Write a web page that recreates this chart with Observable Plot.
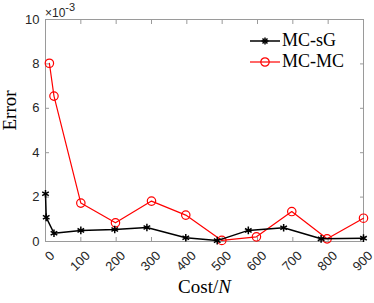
<!DOCTYPE html>
<html>
<head>
<meta charset="utf-8">
<script src="https://cdn.jsdelivr.net/npm/d3@7"></script>
<script src="https://cdn.jsdelivr.net/npm/@observablehq/plot@0.6"></script>
<style>
  html, body { margin: 0; padding: 0; background: #fff; }
  #wrap { position: relative; width: 374px; height: 303px; }
  #exp { position: absolute; left: 45px; top: 2px; font: 12px "Liberation Sans", Arial, sans-serif; color: #262626; }
  #exp sup { font-size: 11px; position: relative; top: -1px; }
  #legend { position: absolute; left: 250px; top: 30px; font: 18px "Liberation Serif", serif; color: #000; }
  .row { display: flex; align-items: center; height: 21px; }
  .row svg { margin-right: 2px; }
</style>
</head>
<body>
<div id="wrap"></div>
<script>
const seriesNames = ["MC-sG", "MC-MC"];
const seriesColors = ["#000000", "#ff0000"];
const costSG = [0, 2, 24, 100, 196, 287, 397, 486, 574, 674, 780, 900];
const errSG  = [2.15e-3, 1.09e-3, 0.37e-3, 0.50e-3, 0.54e-3, 0.63e-3, 0.17e-3, 0.04e-3, 0.50e-3, 0.62e-3, 0.12e-3, 0.15e-3];
const costMC = [11, 24, 100, 198, 300, 397, 499, 597, 697, 797, 900];
const errMC  = [8.03e-3, 6.55e-3, 1.73e-3, 0.84e-3, 1.82e-3, 1.19e-3, 0.05e-3, 0.21e-3, 1.35e-3, 0.12e-3, 1.05e-3];
const xTicks = [0, 100, 200, 300, 400, 500, 600, 700, 800, 900];
const yTicks = [0, 2e-3, 4e-3, 6e-3, 8e-3, 10e-3];

const sG = costSG.map((c, i) => ({cost: c, err: errSG[i]}));
const mc = costMC.map((c, i) => ({cost: c, err: errMC[i]}));

const axisGray = "#9a9a9a";
const labelColor = "#262626";
const blank = () => "";

const plot = Plot.plot({
  width: 374,
  height: 303,
  marginLeft: 45,
  marginRight: 11,
  marginTop: 19,
  marginBottom: 62,
  style: {fontFamily: "'Liberation Sans', Arial, sans-serif", fontSize: "13px", background: "#fff"},
  x: {domain: [0, 900]},
  y: {domain: [0, 10e-3]},
  marks: [
    Plot.frame({stroke: axisGray}),
    Plot.axisX({anchor: "bottom", ticks: xTicks, tickSize: -4, tickFormat: blank, stroke: axisGray, label: null}),
    Plot.axisX({anchor: "top", ticks: xTicks, tickSize: -4, tickFormat: blank, stroke: axisGray, label: null}),
    Plot.axisY({anchor: "left", ticks: yTicks, tickSize: -4, tickFormat: blank, stroke: axisGray, label: null}),
    Plot.axisY({anchor: "right", ticks: yTicks, tickSize: -4, tickFormat: blank, stroke: axisGray, label: null}),
    Plot.axisX({anchor: "bottom", ticks: xTicks, tickSize: 0, tickPadding: 12, dx: 7, tickRotate: -45,
      fill: labelColor, fontSize: 13, label: null}),
    Plot.axisY({anchor: "left", ticks: yTicks, tickSize: 0, tickPadding: 6, fill: labelColor, fontSize: 13,
      tickFormat: d => String(Math.round(d * 1000)), label: null}),
    Plot.line(mc, {x: "cost", y: "err", stroke: seriesColors[1], strokeWidth: 1.2}),
    Plot.dot(mc, {x: "cost", y: "err", stroke: seriesColors[1], symbol: "circle", r: 4.2, strokeWidth: 1.2, fill: "none"}),
    Plot.line(sG, {x: "cost", y: "err", stroke: seriesColors[0], strokeWidth: 1.5}),
    Plot.dot(sG, {x: "cost", y: "err", stroke: seriesColors[0], symbol: "asterisk", r: 3.6, strokeWidth: 1.5}),
    Plot.text(["Cost/N"], {frameAnchor: "bottom", dy: 51, text: d => d, fontFamily: "'Liberation Serif', serif", fontSize: 19, fill: "#000"}),
    Plot.text(["Error"], {frameAnchor: "left", dx: -36, rotate: -90, text: d => d, fontFamily: "'Liberation Serif', serif", fontSize: 19, fill: "#000"})
  ]
});

plot.querySelectorAll("text").forEach(t => {
  if (t.textContent === "Cost/N") {
    t.textContent = "Cost/";
    const ts = document.createElementNS("http://www.w3.org/2000/svg", "tspan");
    ts.setAttribute("font-style", "italic");
    ts.textContent = "N";
    t.appendChild(ts);
  }
});

const wrap = document.getElementById("wrap");
wrap.appendChild(plot);

const exp = document.createElement("div");
exp.id = "exp";
exp.innerHTML = "×10<sup>-3</sup>";
wrap.appendChild(exp);

const legend = document.createElement("div");
legend.id = "legend";
seriesNames.forEach((name, i) => {
  const row = document.createElement("div");
  row.className = "row";
  const sym = i === 0
    ? `<g stroke="${seriesColors[i]}" stroke-width="1.5"><line x1="1.5" y1="7" x2="8.5" y2="7"/><line x1="5" y1="3.5" x2="5" y2="10.5"/><line x1="2.5" y1="4.5" x2="7.5" y2="9.5"/><line x1="2.5" y1="9.5" x2="7.5" y2="4.5"/></g>`
    : `<circle cx="5" cy="7" r="4.2" fill="none" stroke="${seriesColors[i]}" stroke-width="1.2"/>`;
  row.innerHTML = `<svg width="30" height="14" viewBox="0 0 30 14"><line x1="0" y1="7" x2="30" y2="7" stroke="${seriesColors[i]}" stroke-width="${i === 0 ? 1.5 : 1.2}"/><g transform="translate(10,0)">${sym}</g></svg><span>${name}</span>`;
  legend.appendChild(row);
});
wrap.appendChild(legend);
</script>
</body>
</html>
